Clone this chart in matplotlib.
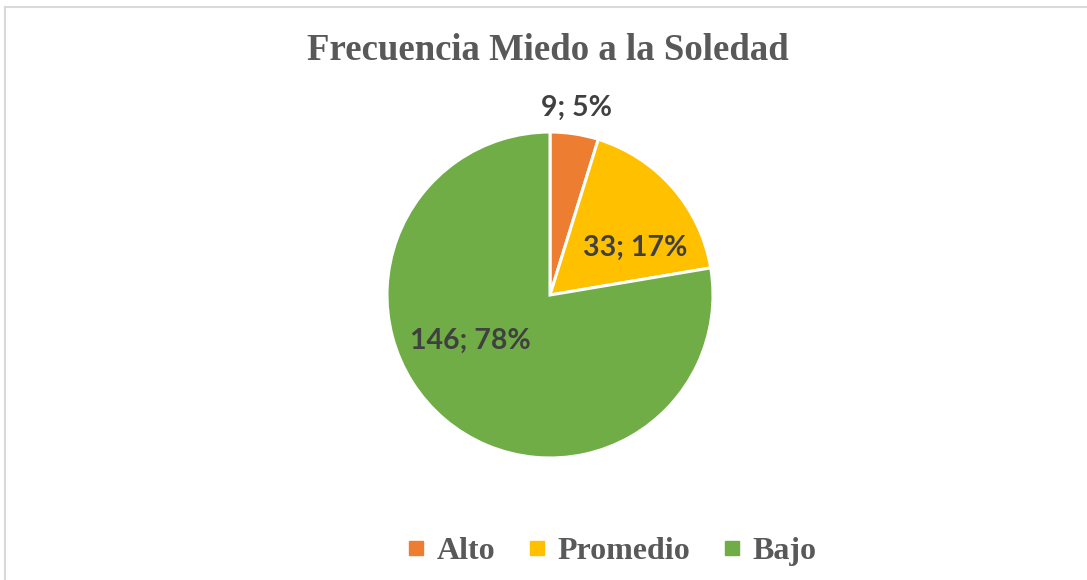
import matplotlib.pyplot as plt
from matplotlib.lines import Line2D

categories = ['Alto', 'Promedio', 'Bajo']
counts = [9, 33, 146]
percents = [5, 17, 78]
colors = ['#ED7D31', '#FFC000', '#70AD47']

fig = plt.figure(figsize=(10.87, 5.8), dpi=100)

# pie centred near (550, 295) px, radius ~163 px
cx, cy, r = 550, 295, 163
W, H = 1087, 580
ax = fig.add_axes([(cx - r) / W, (H - cy - r) / H, 2 * r / W, 2 * r / H])
ax.pie(counts, colors=colors, startangle=90, counterclock=False, radius=1,
       wedgeprops=dict(edgecolor='white', linewidth=2.2))
ax.set_xlim(-1, 1)
ax.set_ylim(-1, 1)
ax.set_aspect('auto')
ax.axis('off')

# label spots in axes data units (radius = 1)
label_pos = [(0.165, 1.15), (0.52, 0.29), (-0.49, -0.28)]
for (x, y), n, p in zip(label_pos, counts, percents):
    ax.text(x, y, f'{n}; {p}%', ha='center', va='center', fontsize=20.5,
            fontweight='bold', family='Lato', color='#404040')

fig.text(0.504, 1 - 51 / H, 'Frecuencia Miedo a la Soledad', ha='center', va='center',
         fontsize=26.5, fontweight='bold', family='Liberation Serif', color='#595959')

handles = [Line2D([], [], marker='s', linestyle='', markersize=10, color=c) for c in colors]
fig.legend(handles, categories, loc='center', bbox_to_anchor=(0.562, 1 - 551 / H), ncol=3,
           frameon=False, handlelength=0.7, handletextpad=0.3, columnspacing=0.95,
           prop=dict(family='Liberation Serif', weight='bold', size=23), labelcolor='#595959')

# chart frame, only top and left edges are in view
fig.add_artist(Line2D([5 / W, 5 / W], [0, 1 - 7 / H], color='#D9D9D9', lw=1.5))
fig.add_artist(Line2D([5 / W, 1], [1 - 7 / H, 1 - 7 / H], color='#D9D9D9', lw=1.5))

fig.savefig('out.png', dpi=100)
